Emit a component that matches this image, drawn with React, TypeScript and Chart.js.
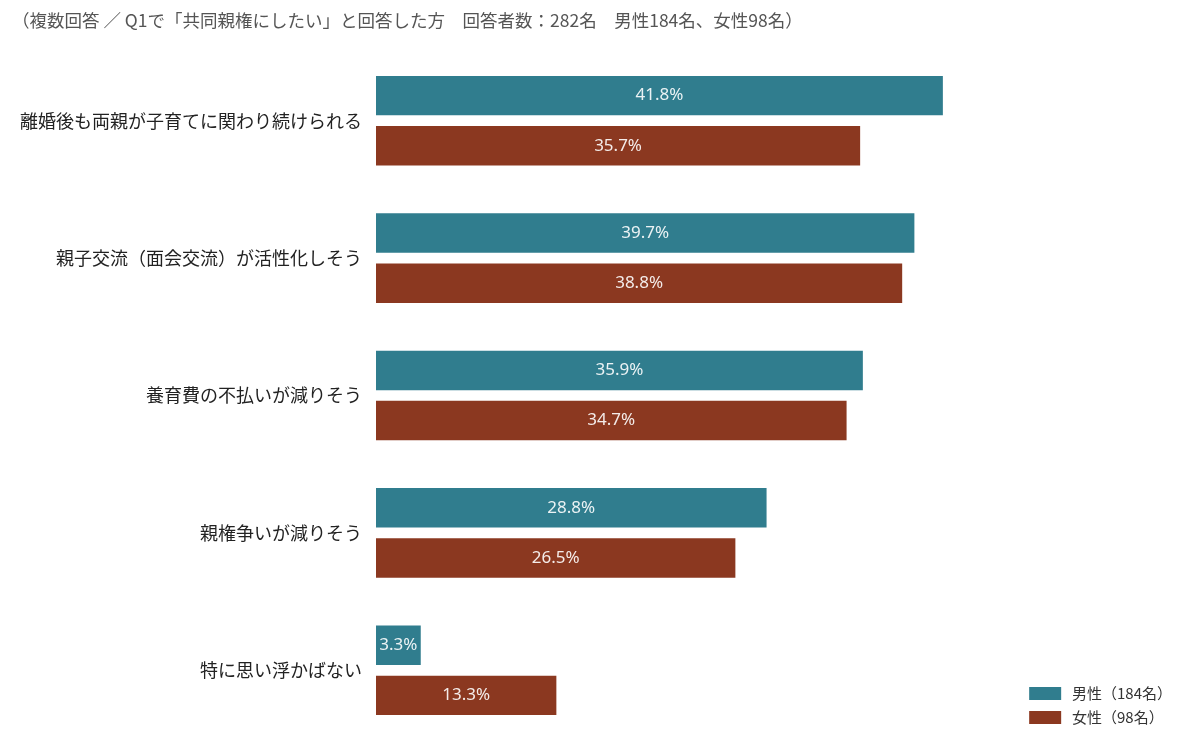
import React, { useEffect, useRef } from "react";
import { Chart, registerables, Plugin } from "chart.js";

Chart.register(...registerables);

const titleText =
  "（複数回答 ／ Q1で「共同親権にしたい」と回答した方　回答者数：282名　男性184名、女性98名）";

const categories = [
  "離婚後も両親が子育てに関わり続けられる",
  "親子交流（面会交流）が活性化しそう",
  "養育費の不払いが減りそう",
  "親権争いが減りそう",
  "特に思い浮かばない",
];

const maleValues = [41.8, 39.7, 35.9, 28.8, 3.3];
const femaleValues = [35.7, 38.8, 34.7, 26.5, 13.3];

const seriesLabels = ["男性（184名）", "女性（98名）"];

const TEAL = "#307d8e";
const BROWN = "#8b3820";
const JP_FONT = "'Noto Sans CJK JP', 'Noto Sans', sans-serif";

// draws the value in the middle of each bar
const barValueLabels: Plugin<"bar"> = {
  id: "barValueLabels",
  afterDatasetsDraw(chart) {
    const { ctx } = chart;
    ctx.save();
    ctx.font = "17px 'Noto Sans', 'Noto Sans CJK JP', sans-serif";
    ctx.fillStyle = "rgba(255,255,255,0.9)";
    ctx.textAlign = "center";
    ctx.textBaseline = "middle";
    chart.data.datasets.forEach((ds, i) => {
      const meta = chart.getDatasetMeta(i);
      meta.data.forEach((bar: any, j) => {
        const v = ds.data[j] as number;
        const x = (bar.base + bar.x) / 2;
        ctx.fillText(v.toFixed(1) + "%", x, bar.y);
      });
    });
    ctx.restore();
  },
};

// nudges the legend a little above the bottom of the chart area
const liftLegend: Plugin<"bar"> = {
  id: "liftLegend",
  beforeDraw(chart) {
    const lg: any = chart.legend;
    if (lg && !lg._lifted) {
      lg.bottom -= 5;
      lg._lifted = true;
    }
  },
};

const App: React.FC = () => {
  const canvasRef = useRef<HTMLCanvasElement | null>(null);

  useEffect(() => {
    document.body.style.margin = "0";
    if (!canvasRef.current) return;
    const chart = new Chart(canvasRef.current, {
      type: "bar",
      data: {
        labels: categories,
        datasets: [
          {
            label: seriesLabels[0],
            data: maleValues,
            backgroundColor: TEAL,
            categoryPercentage: 0.73,
            barPercentage: 0.787,
          },
          {
            label: seriesLabels[1],
            data: femaleValues,
            backgroundColor: BROWN,
            categoryPercentage: 0.73,
            barPercentage: 0.787,
          },
        ],
      },
      options: {
        indexAxis: "y",
        animation: false,
        responsive: false,
        layout: { padding: { left: 12, right: 18, top: 10, bottom: 11 } },
        scales: {
          x: {
            display: false,
            min: 0,
            max: 47.5,
          },
          y: {
            grid: { display: false, drawTicks: false },
            border: { display: false },
            ticks: {
              color: "#222",
              padding: 14,
              font: { size: 18, family: JP_FONT },
            },
            afterFit: (scale) => {
              scale.width = 364;
              scale.paddingTop = 0;
              scale.paddingBottom = 0;
            },
          },
        },
        plugins: {
          title: {
            display: true,
            text: titleText,
            align: "start",
            color: "#555",
            font: { size: 17.5, family: JP_FONT, weight: "normal" },
            padding: { top: 0, bottom: 21 },
          },
          legend: {
            position: "right",
            align: "end",
            labels: {
              boxWidth: 32,
              boxHeight: 13,
              color: "#333",
              font: { size: 15, family: JP_FONT },
              padding: 9,
              generateLabels: (c) =>
                Chart.defaults.plugins.legend.labels
                  .generateLabels(c)
                  .map((l) => ({ ...l, text: " " + l.text })),
            },
          },
          tooltip: { enabled: false },
        },
      },
      plugins: [barValueLabels, liftLegend],
    });
    return () => chart.destroy();
  }, []);

  return (
    <div style={{ width: 1200, height: 750, background: "#fff" }}>
      <canvas ref={canvasRef} width={1200} height={750} />
    </div>
  );
};

export default App;
